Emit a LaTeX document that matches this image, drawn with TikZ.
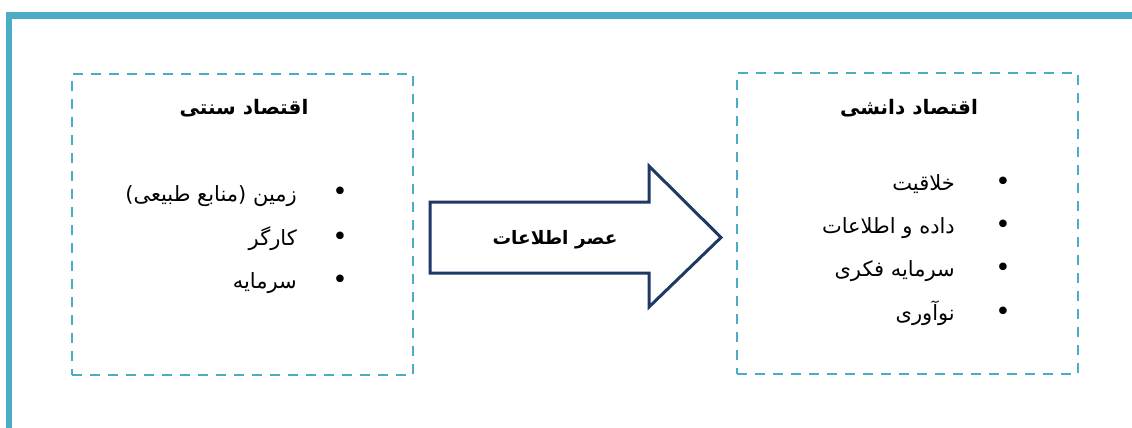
\documentclass[tikz,border=0pt]{standalone}
\usepackage{fontspec}
\newfontfamily\arabicfont[Script=Arabic]{DejaVu Sans}
\TeXXeTstate=1
\definecolor{frameteal}{HTML}{4BACC6}
\definecolor{arrownavy}{HTML}{1F3864}
\newcommand\artext[1]{{\arabicfont\beginR #1\endR}}
\tikzset{
  dashbox/.style={draw=frameteal, line width=2.5pt, dash pattern=on 10pt off 8pt, minimum width=341pt, minimum height=301pt, inner sep=0pt},
  boxtitle/.style={font=\arabicfont\bfseries\fontsize{20}{23}\selectfont, inner sep=0pt, anchor=base},
  eratext/.style={font=\arabicfont\bfseries\fontsize{18.5}{22}\selectfont, inner sep=0pt, anchor=base},
  item/.style={font=\arabicfont\fontsize{21}{24}\selectfont, anchor=base east, inner sep=0pt},
  bul/.style={font=\arabicfont\fontsize{26}{28}\selectfont, inner sep=0pt},
}
\begin{document}
\begin{tikzpicture}[x=1pt,y=-1pt]
\useasboundingbox (0,0) rectangle (1132,428);
\draw[frameteal, line width=6.5pt] (9,428) -- (9,15.5) -- (1132,15.5);
% boxes
\node[dashbox] (left) at (242.5,224.5) {};
\node[dashbox] (right) at (907.5,223.5) {};
% titles
\node[boxtitle] (lt) at (244,114) {\artext{اقتصاد سنتی}};
\node[boxtitle] (rt) at (909,114) {\artext{اقتصاد دانشی}};
% left items
\node[bul] (lb1) at (340,194) {•};
\node[bul] (lb2) at (340,239) {•};
\node[bul] (lb3) at (340,282) {•};
\node[item] (li1) at (297,201) {\artext{زمین (منابع طبیعی)}};
\node[item] (li2) at (297,245) {\artext{کارگر}};
\node[item] (li3) at (297,288) {\artext{سرمایه}};
% right items
\node[bul] (rb1) at (1003,184) {•};
\node[bul] (rb2) at (1003,227) {•};
\node[bul] (rb3) at (1003,270) {•};
\node[bul] (rb4) at (1003,314) {•};
\node[item] (ri1) at (955,190) {\artext{خلاقیت}};
\node[item] (ri2) at (955,233) {\artext{داده و اطلاعات}};
\node[item] (ri3) at (955,276) {\artext{سرمایه فکری}};
\node[item] (ri4) at (955,320) {\artext{نوآوری}};
% arrow
\draw[arrownavy, line width=3pt, line join=miter, fill=white]
  (430,202) -- (649,202) -- (649,166) -- (721,237.5) -- (649,307) -- (649,273) -- (430,273) -- cycle;
\node[eratext] (era) at (555,244) {\artext{عصر اطلاعات}};
\end{tikzpicture}
\end{document}
